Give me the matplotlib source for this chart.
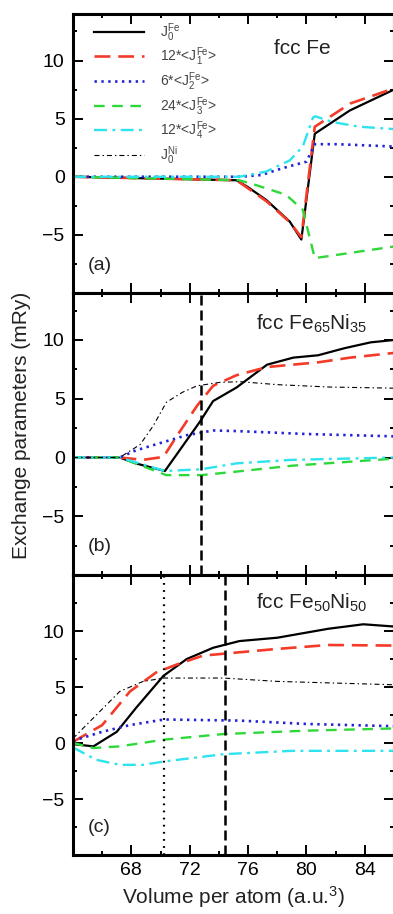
import numpy as np
import matplotlib
matplotlib.use("Agg")
import matplotlib.pyplot as plt
from matplotlib.ticker import MultipleLocator, FixedLocator

plt.rcParams['font.family'] = ['Liberation Sans', 'DejaVu Sans']
plt.rcParams['mathtext.fontset'] = 'custom'
plt.rcParams['mathtext.rm'] = 'Liberation Sans'
plt.rcParams['mathtext.it'] = 'Liberation Sans:italic'

# ---------------- data ----------------
# (a) fcc Fe
a_j0_x = [64, 75.2, 76, 77.25, 78.85, 79.65, 80.57, 82.97, 86]
a_j0_y = [0, -0.3, -0.9, -2.0, -3.85, -5.4, 3.7, 5.7, 7.5]
a_j1_x = [64, 75.2, 76, 77.25, 78.85, 79.65, 80.57, 83.0, 86]
a_j1_y = [0, -0.3, -1.0, -2.1, -3.9, -5.2, 4.3, 6.3, 7.6]
a_j2_x = [64, 75.5, 76.9, 78.4, 80.0, 80.57, 82.1, 86]
a_j2_y = [0, 0, 0.15, 0.75, 1.3, 2.8, 2.8, 2.6]
a_j3_x = [64, 75.4, 76.5, 78.6, 79.75, 80.57, 86]
a_j3_y = [0, -0.3, -0.7, -1.55, -2.85, -7.0, -6.0]
a_j4_x = [64, 75.4, 77.25, 78.85, 79.75, 80.45, 80.6, 81.8, 83.65, 86]
a_j4_y = [0, 0, 0.45, 1.4, 2.6, 5.1, 5.2, 4.7, 4.3, 4.1]

# (b) fcc Fe65Ni35
b_j0_x = [64, 67.2, 68.3, 70.3, 71.3, 72.7, 73.6, 75.2, 77.3, 79.1, 80.8, 82.6, 84.4, 86]
b_j0_y = [0, 0, -0.5, -1.15, 0.6, 3.05, 4.8, 5.95, 7.9, 8.5, 8.7, 9.3, 9.8, 10.0]
b_j1_x = [64, 67.2, 68.8, 70.2, 71.1, 72.5, 73.6, 75.2, 77.3, 80.8, 83.0, 86]
b_j1_y = [0, 0, -0.2, 0.05, 1.8, 4.4, 6.1, 7.0, 7.7, 8.1, 8.5, 8.9]
b_j2_x = [64, 67.2, 68.3, 69.9, 71.8, 73.6, 75.2, 80.0, 86]
b_j2_y = [0, 0, 0.6, 1.2, 1.9, 2.3, 2.25, 2.0, 1.8]
b_j3_x = [64, 67.2, 70.4, 72.8, 75.2, 79.0, 86]
b_j3_y = [0, 0, -1.5, -1.5, -1.2, -0.7, -0.1]
b_j4_x = [64, 67.2, 70.3, 72.8, 75.2, 79.0, 86]
b_j4_y = [0, 0, -1.15, -1.0, -0.5, -0.2, 0.0]
b_ni_x = [64, 67.2, 68.6, 69.5, 70.4, 71.5, 72.5, 74.1, 75.5, 78.0, 81.5, 86]
b_ni_y = [0, 0, 1.1, 2.7, 4.7, 5.55, 6.1, 6.4, 6.45, 6.2, 6.0, 5.9]
b_vline = 72.8

# (c) fcc Fe50Ni50
c_j0_x = [64, 65.4, 67.0, 68.3, 70.2, 71.8, 73.6, 75.4, 78.0, 81.5, 83.9, 86]
c_j0_y = [-0.1, -0.3, 1.0, 3.1, 6.0, 7.5, 8.5, 9.1, 9.4, 10.2, 10.6, 10.4]
c_j1_x = [64, 66.0, 67.9, 69.7, 71.1, 72.9, 75.4, 78.0, 81.5, 86]
c_j1_y = [0.1, 1.6, 4.6, 6.3, 7.0, 7.8, 8.1, 8.4, 8.75, 8.7]
c_j2_x = [64, 66.0, 67.9, 70.25, 75.4, 80.0, 86]
c_j2_y = [0.2, 1.0, 1.6, 2.1, 2.0, 1.7, 1.5]
c_j3_x = [64, 65.4, 67.2, 70.25, 74.3, 80.0, 86]
c_j3_y = [0, -0.45, -0.3, 0.3, 0.8, 1.1, 1.3]
c_j4_x = [64, 65.6, 67.2, 68.8, 70.25, 74.3, 79.0, 86]
c_j4_y = [-0.4, -1.5, -1.95, -1.95, -1.65, -1.0, -0.7, -0.7]
c_ni_x = [64, 64.45, 65.6, 67.2, 68.8, 70.25, 74.3, 78.0, 86]
c_ni_y = [0.4, 1.0, 2.5, 4.6, 5.5, 5.8, 5.8, 5.5, 5.2]
c_vline_dash = 74.45
c_vline_dot = 70.25

labels = [r'$\mathrm{J}_0^{\mathrm{Fe}}$',
          r'12*<$\mathrm{J}_1^{\mathrm{Fe}}$>',
          r'6*<$\mathrm{J}_2^{\mathrm{Fe}}$>',
          r'24*<$\mathrm{J}_3^{\mathrm{Fe}}$>',
          r'12*<$\mathrm{J}_4^{\mathrm{Fe}}$>',
          r'$\mathrm{J}_0^{\mathrm{Ni}}$']

styles = [
    dict(color='black', lw=1.6),
    dict(color='#f43a28', lw=1.9, dashes=(6, 3)),
    dict(color='#2222d6', lw=1.9, dashes=(0.9, 1.7)),
    dict(color='#2fd83a', lw=1.7, dashes=(4.5, 3.2)),
    dict(color='#2de3ee', lw=1.7, dashes=(5.5, 2.3, 1.2, 2.3)),
    dict(color='black', lw=0.8, dashes=(4.5, 2.7, 1.3, 2.7)),
]

fig = plt.figure(figsize=(3.93, 9.14), dpi=100)
L, W = 73 / 393, 321 / 393
H = 914.0
ax_a = fig.add_axes([L, 1 - 293 / H, W, 279 / H])
ax_b = fig.add_axes([L, 1 - 575 / H, W, 282 / H])
ax_c = fig.add_axes([L, 1 - 855 / H, W, 280 / H])


def style_axes(ax, ylim, bottom_labels=False):
    ax.set_xlim(64, 86)
    ax.set_ylim(*ylim)
    ax.xaxis.set_major_locator(FixedLocator([68, 72, 76, 80, 84]))
    ax.xaxis.set_minor_locator(FixedLocator([66, 70, 74, 78, 82]))
    ax.yaxis.set_major_locator(FixedLocator([-5, 0, 5, 10]))
    ax.yaxis.set_minor_locator(FixedLocator([-7.5, -2.5, 2.5, 7.5, 12.5]))
    ax.tick_params(which='both', direction='in', top=True, right=True,
                   width=1.4, labelsize=14)
    ax.tick_params(which='major', length=7.5, pad=6)
    ax.tick_params(which='minor', length=3)
    ax.tick_params(axis='x', pad=5, labelbottom=bottom_labels)
    for s in ax.spines.values():
        s.set_linewidth(2.2)


# (a)
series_a = [(a_j0_x, a_j0_y), (a_j1_x, a_j1_y), (a_j2_x, a_j2_y),
            (a_j3_x, a_j3_y), (a_j4_x, a_j4_y)]
for (x, y), st, lab in zip(series_a, styles, labels):
    ax_a.plot(x, y, label=lab, **st)
ax_a.plot([], [], label=labels[5], **styles[5])
style_axes(ax_a, (-10, 14))
ax_a.text(0.625, 0.875, 'fcc Fe', transform=ax_a.transAxes, fontsize=15,
          va='center', ha='left', color='#222222')
ax_a.text(0.045, 0.1, '(a)', transform=ax_a.transAxes, fontsize=14,
          va='center', ha='left', color='#222222')
ax_a.legend(loc='upper left', bbox_to_anchor=(0.045, 1.0), frameon=False,
            fontsize=10, handlelength=3.6, handletextpad=1.1,
            labelspacing=0.15, borderaxespad=0.1, labelcolor='#444444')

# (b)
series_b = [(b_j0_x, b_j0_y), (b_j1_x, b_j1_y), (b_j2_x, b_j2_y),
            (b_j3_x, b_j3_y), (b_j4_x, b_j4_y), (b_ni_x, b_ni_y)]
for (x, y), st in zip(series_b, styles):
    ax_b.plot(x, y, **st)
ax_b.axvline(b_vline, color='black', lw=1.8, dashes=(4, 2))
style_axes(ax_b, (-10, 14))
ax_b.text(0.57, 0.89, r'fcc Fe$_{65}$Ni$_{35}$', transform=ax_b.transAxes,
          fontsize=15, va='center', ha='left', color='#222222')
ax_b.text(0.045, 0.1, '(b)', transform=ax_b.transAxes, fontsize=14,
          va='center', ha='left', color='#222222')

# (c)
series_c = [(c_j0_x, c_j0_y), (c_j1_x, c_j1_y), (c_j2_x, c_j2_y),
            (c_j3_x, c_j3_y), (c_j4_x, c_j4_y), (c_ni_x, c_ni_y)]
for (x, y), st in zip(series_c, styles):
    ax_c.plot(x, y, **st)
ax_c.axvline(c_vline_dot, color='black', lw=1.6, dashes=(0.8, 2.4))
ax_c.axvline(c_vline_dash, color='black', lw=1.8, dashes=(4, 2))
style_axes(ax_c, (-10, 15), bottom_labels=True)
ax_c.text(0.57, 0.9, r'fcc Fe$_{50}$Ni$_{50}$', transform=ax_c.transAxes,
          fontsize=15, va='center', ha='left', color='#222222')
ax_c.text(0.045, 0.1, '(c)', transform=ax_c.transAxes, fontsize=14,
          va='center', ha='left', color='#222222')

fig.text(0.055, 0.535, 'Exchange parameters (mRy)', rotation=90,
         fontsize=15, ha='center', va='center', color='#222222')
fig.text(0.595, 0.019, r'Volume per atom (a.u.$^3$)', fontsize=15,
         ha='center', va='center', color='#222222')

fig.savefig('out.png', dpi=100)
